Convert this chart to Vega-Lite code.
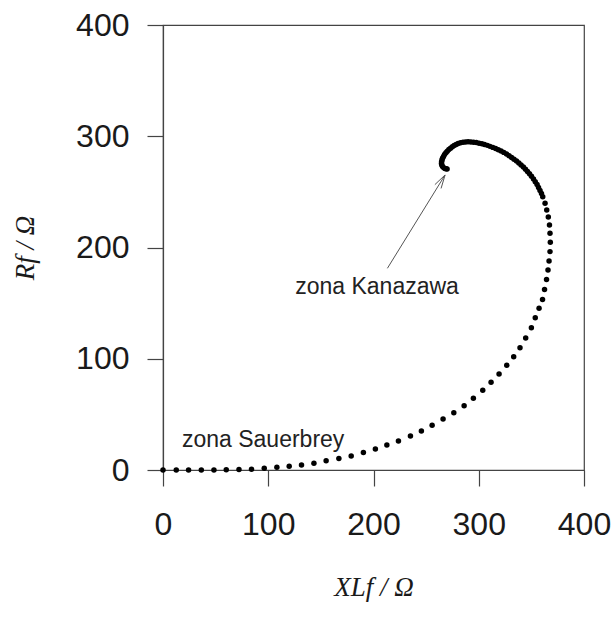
{
  "$schema": "https://vega.github.io/schema/vega-lite/v6.json",
  "width": 421,
  "height": 445,
  "autosize": {"type": "none"},
  "padding": {"left": 163, "top": 25, "right": 29, "bottom": 147},
  "background": "white",
  "config": {
    "view": {"stroke": "#444", "strokeWidth": 1.2},
    "axis": {
      "grid": false,
      "domainColor": "#444",
      "domainWidth": 1.2,
      "tickColor": "#444",
      "tickWidth": 1.2,
      "tickSize": 16,
      "labelFlush": false,
      "labelOverlap": false,
      "labelFont": "Liberation Sans",
      "labelFontSize": 32,
      "labelColor": "#1a1a1a",
      "labelPadding": 18,
      "titleFont": "Liberation Serif",
      "titleFontStyle": "italic",
      "titleFontWeight": "normal",
      "titleFontSize": 27,
      "titleColor": "#1a1a1a"
    }
  },
  "datasets": {
    "curve": [
      {"x": 0, "y": 0}, {"x": 12.6, "y": 0}, {"x": 24.3, "y": 0}, {"x": 36.4, "y": 0}, {"x": 48.4, "y": 0},
      {"x": 60.1, "y": 0.2}, {"x": 72.2, "y": 0.4}, {"x": 84.1, "y": 0.7}, {"x": 96.2, "y": 1.5}, {"x": 108.2, "y": 2.4},
      {"x": 119.9, "y": 3.3}, {"x": 131.6, "y": 4.5}, {"x": 143.4, "y": 6.0}, {"x": 155.0, "y": 8.4}, {"x": 167.1, "y": 10.3},
      {"x": 178.8, "y": 12.6}, {"x": 190.4, "y": 15.7}, {"x": 201.8, "y": 18.9}, {"x": 212.7, "y": 22.5}, {"x": 223.7, "y": 26.1},
      {"x": 235.1, "y": 30.6}, {"x": 245.5, "y": 35.1}, {"x": 255.7, "y": 40.2}, {"x": 266.1, "y": 45.8}, {"x": 276.3, "y": 51.5},
      {"x": 286.1, "y": 57.8}, {"x": 294.9, "y": 64.4}, {"x": 303.8, "y": 71.6}, {"x": 311.7, "y": 78.8}, {"x": 319.3, "y": 86.3},
      {"x": 326.6, "y": 94.1}, {"x": 333.2, "y": 101.8}, {"x": 339.2, "y": 109.9}, {"x": 344.6, "y": 118.7}, {"x": 350.0, "y": 127.9},
      {"x": 353.7, "y": 136.9}, {"x": 357.3, "y": 145.3}, {"x": 360.6, "y": 153.3}, {"x": 362.5, "y": 162.2}, {"x": 364.4, "y": 171.2},
      {"x": 365.8, "y": 179.8}, {"x": 366.8, "y": 187.9}, {"x": 367.7, "y": 196.3}, {"x": 368.0, "y": 204.7}, {"x": 367.7, "y": 212.8},
      {"x": 367.2, "y": 220.2}, {"x": 366.1, "y": 227.4}, {"x": 364.6, "y": 233.7}, {"x": 363.0, "y": 239.7}, {"x": 360.8, "y": 245.7},
      {"x": 359.6, "y": 248.5}, {"x": 358.2, "y": 251.2}, {"x": 356.8, "y": 253.9}, {"x": 355.4, "y": 256.6}, {"x": 353.7, "y": 259.1},
      {"x": 352.0, "y": 261.6}, {"x": 350.1, "y": 264.0}, {"x": 348.2, "y": 266.2}, {"x": 346.3, "y": 268.4}, {"x": 344.4, "y": 270.4},
      {"x": 342.4, "y": 272.4}, {"x": 340.2, "y": 274.2}, {"x": 338.1, "y": 276.0}, {"x": 335.9, "y": 277.8}, {"x": 333.5, "y": 279.4},
      {"x": 331.2, "y": 280.9}, {"x": 328.8, "y": 282.5}, {"x": 326.4, "y": 284.0}, {"x": 323.8, "y": 285.5}, {"x": 321.2, "y": 286.7},
      {"x": 318.6, "y": 287.9}, {"x": 316.0, "y": 289.0}, {"x": 313.4, "y": 290.0}, {"x": 310.7, "y": 290.9}, {"x": 308.2, "y": 291.8},
      {"x": 305.5, "y": 292.5}, {"x": 303.0, "y": 293.2}, {"x": 300.3, "y": 293.8}, {"x": 297.7, "y": 294.4}, {"x": 295.1, "y": 294.7},
      {"x": 292.5, "y": 294.9}, {"x": 289.9, "y": 295.0}, {"x": 287.5, "y": 294.9}, {"x": 285.1, "y": 294.6}, {"x": 282.7, "y": 294.1},
      {"x": 280.4, "y": 293.4}, {"x": 278.5, "y": 292.6}, {"x": 276.6, "y": 291.6}, {"x": 274.9, "y": 290.5}, {"x": 273.2, "y": 289.3},
      {"x": 271.6, "y": 288.0}, {"x": 270.1, "y": 286.6}, {"x": 268.8, "y": 285.1}, {"x": 267.5, "y": 283.5}, {"x": 266.5, "y": 281.9},
      {"x": 265.6, "y": 280.3}, {"x": 265.1, "y": 278.7}, {"x": 264.7, "y": 277.0}, {"x": 264.6, "y": 275.5}, {"x": 264.9, "y": 274.2},
      {"x": 265.6, "y": 272.8}, {"x": 266.6, "y": 271.8}, {"x": 267.8, "y": 271.1}, {"x": 269.0, "y": 270.7}, {"x": 269.9, "y": 270.6}
    ],
    "arrow": [
      {"x": 213.2, "y": 181.3, "x2": 268.0, "y2": 265.2},
      {"x": 258.3, "y": 256.5, "x2": 268.0, "y2": 265.2},
      {"x": 264.2, "y": 253.1, "x2": 268.0, "y2": 265.2}
    ],
    "labels": [
      {"x": 18.0, "y": 20.4, "text": "zona Sauerbrey"},
      {"x": 125.6, "y": 157.9, "text": "zona Kanazawa"}
    ]
  },
  "layer": [
    {
      "data": {"name": "curve"},
      "mark": {"type": "point", "filled": true, "shape": "circle", "size": 30, "color": "#000", "opacity": 1},
      "encoding": {
        "x": {"field": "x", "type": "quantitative", "scale": {"domain": [0, 400], "nice": false, "zero": false},
              "axis": {"values": [0, 100, 200, 300, 400], "title": "XLf / Ω", "labelPadding": 23, "titlePadding": 34}},
        "y": {"field": "y", "type": "quantitative", "scale": {"domain": [0, 400], "nice": false, "zero": false},
              "axis": {"values": [0, 100, 200, 300, 400], "title": "Rf / Ω", "titlePadding": 36}}
      }
    },
    {
      "data": {"name": "arrow"},
      "mark": {"type": "rule", "color": "#555", "strokeWidth": 1},
      "encoding": {
        "x": {"field": "x", "type": "quantitative"},
        "y": {"field": "y", "type": "quantitative"},
        "x2": {"field": "x2"},
        "y2": {"field": "y2"}
      }
    },
    {
      "data": {"name": "labels"},
      "mark": {"type": "text", "align": "left", "baseline": "alphabetic", "font": "Liberation Sans", "fontSize": 23, "color": "#222"},
      "encoding": {
        "x": {"field": "x", "type": "quantitative"},
        "y": {"field": "y", "type": "quantitative"},
        "text": {"field": "text"}
      }
    }
  ]
}
